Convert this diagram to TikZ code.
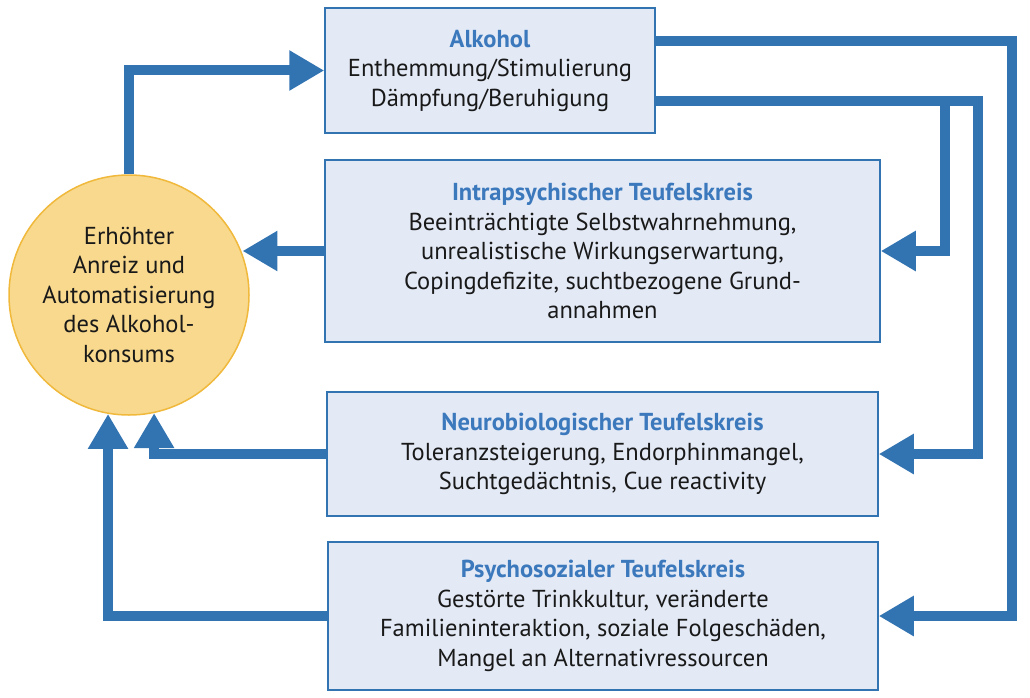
\documentclass[tikz,border=0pt]{standalone}
\usepackage{fontspec}
\setmainfont{PT Sans}
\usetikzlibrary{arrows.meta,calc}
\definecolor{pfeilblau}{RGB}{50,115,178}
\definecolor{kastenblau}{RGB}{227,234,246}
\definecolor{titelblau}{RGB}{59,120,188}
\definecolor{kreisgelb}{RGB}{248,217,142}
\definecolor{kreisrand}{RGB}{240,185,60}
\newcommand{\titel}[1]{\textcolor{titelblau}{\textbf{#1}}}

\begin{document}
\begin{tikzpicture}[x=1pt,y=-1pt,
kasten/.style={draw=pfeilblau,line width=1.5pt,fill=kastenblau,align=center,inner sep=0pt,text=black!90,font=\fontsize{24.5}{29.5}\selectfont},
kreis/.style={circle,draw=kreisrand,line width=1.5pt,fill=kreisgelb,minimum size=240pt,inner sep=0pt,align=center,text=black!90,font=\fontsize{24.5}{29.5}\selectfont},
pfeil/.style={draw=pfeilblau,line width=10pt,line join=miter,-{Triangle[width=38pt,length=35pt]}}]
\useasboundingbox (0,0) rectangle (1030,698);

% Kreis links
\node[kreis] (anreiz) at (129,295) {Erhöhter\\Anreiz und\\Automatisierung\\des Alkohol-\\konsums};

% Kaesten rechts
\node[kasten,minimum width=330pt,minimum height=125pt] (alk) at (490,70.5)
  {\titel{Alkohol}\\Enthemmung/Stimulierung\\Dämpfung/Beruhigung};
\node[kasten,minimum width=555pt,minimum height=182pt] (intra) at (602.5,251)
  {\titel{Intrapsychischer Teufelskreis}\\Beeinträchtigte Selbstwahrnehmung,\\unrealistische Wirkungserwartung,\\Copingdefizite, suchtbezogene Grund-\\annahmen};
\node[kasten,minimum width=551pt,minimum height=124pt] (neuro) at (602.5,454)
  {\titel{Neurobiologischer Teufelskreis}\\Toleranzsteigerung, Endorphinmangel,\\Suchtgedächtnis, Cue reactivity};
\node[kasten,minimum width=550pt,minimum height=148pt] (psy) at (603,616)
  {\titel{Psychosozialer Teufelskreis}\\Gestörte Trinkkultur, veränderte\\Familieninteraktion, soziale Folgeschäden,\\Mangel an Alternativressourcen};

% Schienen rechts
\coordinate (schiene1) at (1012,0);
\coordinate (schiene2) at (945,0);
\coordinate (schiene3) at (978,0);

% Pfeile
\draw[pfeil] (anreiz.north) |- (alk.west);
\draw[pfeil] ([yshift=-34pt]alk.north east) -| (schiene1 |- psy.east) -- (psy.east);
\draw[pfeil] ([yshift=33pt]alk.south east) -| (schiene3 |- neuro.east) -- (neuro.east);
\draw[pfeil] ([yshift=33pt]alk.south east) -| (schiene2 |- intra.east) -- (intra.east);
\draw[pfeil] (intra.west) -- (intra.west -| anreiz.20);
\draw[pfeil] (neuro.west) -| (anreiz.282);
\draw[pfeil] (psy.west) -| (anreiz.260);
\end{tikzpicture}
\end{document}
